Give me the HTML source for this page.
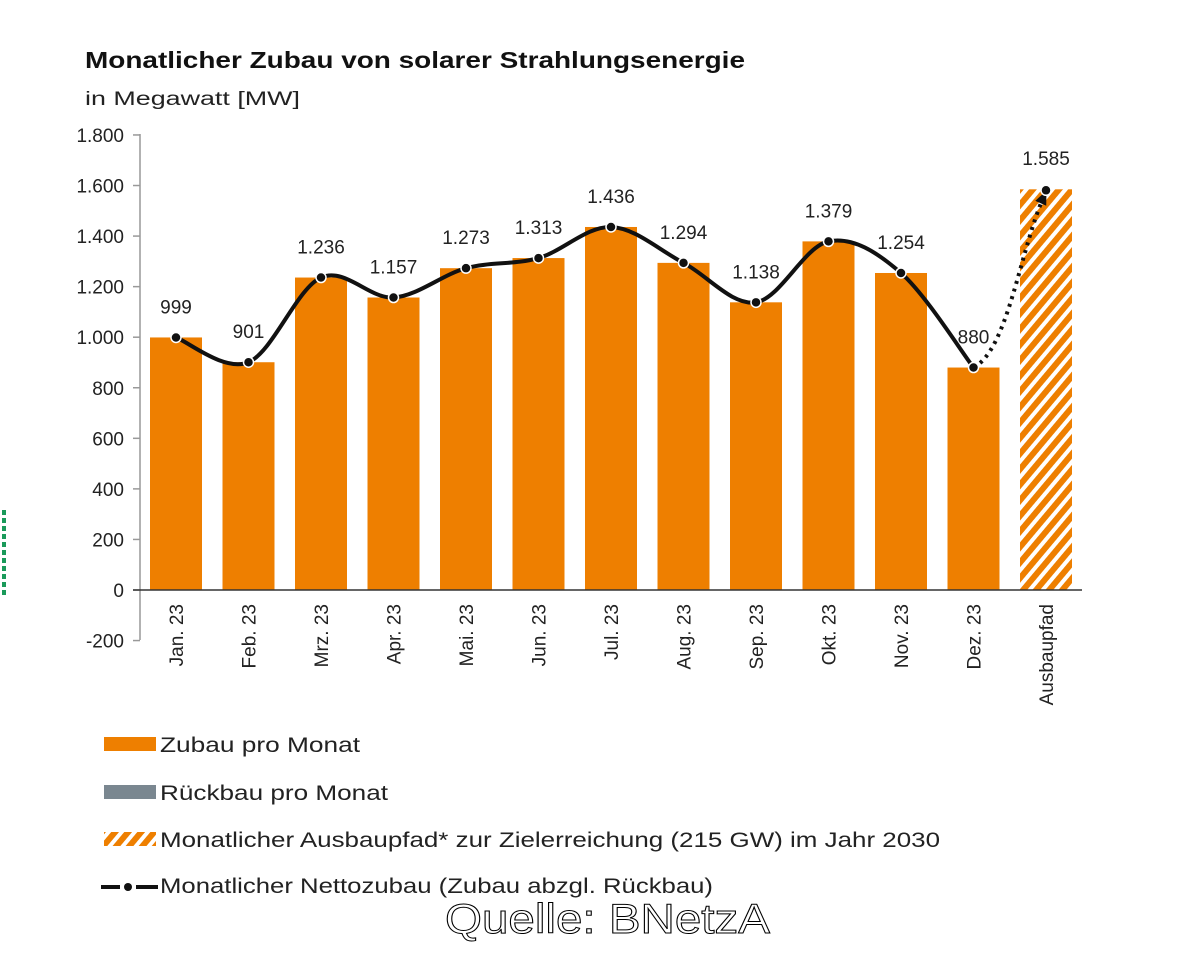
<!DOCTYPE html>
<html><head><meta charset="utf-8"><style>
body{margin:0;background:#fff;width:1200px;height:960px;overflow:hidden}
svg text{font-family:"Liberation Sans",sans-serif}
</style></head><body>
<svg id="s" width="1200" height="960" xmlns="http://www.w3.org/2000/svg">
<defs><pattern id="h" width="10" height="10" patternUnits="userSpaceOnUse" patternTransform="rotate(40)"><rect width="10" height="10" fill="#fff"/><rect width="6" height="10" fill="#ee7f00"/></pattern>
<marker id="ar" markerUnits="userSpaceOnUse" markerWidth="14" markerHeight="14" refX="8" refY="7" orient="auto"><path d="M0,1L14,7L0,13z" fill="#111"/></marker></defs>
<text x="85" y="68" font-size="23" font-weight="bold" fill="#111" textLength="660" lengthAdjust="spacingAndGlyphs">Monatlicher Zubau von solarer Strahlungsenergie</text>
<text x="85" y="105" font-size="19" fill="#222" textLength="215" lengthAdjust="spacingAndGlyphs">in Megawatt [MW]</text>
<line x1="4" y1="510" x2="4" y2="598" stroke="#1a9a5a" stroke-width="4" stroke-dasharray="5,3"/>
<g id="g"></g>
<text x="445" y="933" font-size="42" fill="#fff" stroke="#000" stroke-width="1" textLength="325" lengthAdjust="spacingAndGlyphs">Quelle: BNetzA</text>
</svg>
<script>
var g=document.getElementById('g'),h='';
function Y(v){return 590-v*0.2528}
for(var v=-200;v<=1800;v+=200){var y=Y(v);h+='<line x1="133" y1="'+y+'" x2="140" y2="'+y+'" stroke="#999" stroke-width="1.5"/>';
h+='<text x="124" y="'+(y+7)+'" font-size="19" fill="#222" text-anchor="end">'+(v>=1000?(v/1000|0)+'.'+String(v%1000).padStart(3,'0'):v)+'</text>';}
h+='<line x1="140" y1="134" x2="140" y2="640" stroke="#999" stroke-width="1.5"/>';
var d=[999,901,1236,1157,1273,1313,1436,1294,1138,1379,1254,880],L=['Jan. 23','Feb. 23','Mrz. 23','Apr. 23','Mai. 23','Jun. 23','Jul. 23','Aug. 23','Sep. 23','Okt. 23','Nov. 23','Dez. 23','Ausbaupfad'];
var P=[];
for(var i=0;i<13;i++){var c=176+72.5*i,v=i<12?d[i]:1585;
h+='<rect x="'+(c-26)+'" y="'+Y(v)+'" width="52" height="'+(590-Y(v))+'" fill="'+(i<12?'#ee7f00':'url(#h)')+'"/>';
h+='<text transform="translate('+(c+7)+',604) rotate(-90)" font-size="19" fill="#222" text-anchor="end">'+L[i]+'</text>';
P.push([c,Y(v)]);}
h+='<line x1="133" y1="590" x2="1082" y2="590" stroke="#333" stroke-width="1.5"/>';
var p='M'+P[0];for(var i=0;i<11;i++){var a=P[Math.max(i-1,0)],b=P[i],c=P[i+1],e=P[Math.min(i+2,11)];
p+=' C'+(b[0]+(c[0]-a[0])/6)+','+(b[1]+(c[1]-a[1])/6)+' '+(c[0]-(e[0]-b[0])/6)+','+(c[1]-(e[1]-b[1])/6)+' '+c;}
h+='<path d="'+p+'" fill="none" stroke="#111" stroke-width="4"/>';
h+='<path d="M'+P[11]+' C1008,350 1020,250 1044,196" fill="none" stroke="#111" stroke-width="4" stroke-dasharray="3,5" marker-end="url(#ar)"/>';
for(var i=0;i<12;i++){h+='<circle cx="'+P[i][0]+'" cy="'+P[i][1]+'" r="5" fill="#111" stroke="#fff" stroke-width="1.5"/>';
var s=d[i]>=1000?'1.'+String(d[i]%1000).padStart(3,'0'):d[i];h+='<text x="'+P[i][0]+'" y="'+(P[i][1]-24)+'" font-size="19" fill="#222" text-anchor="middle">'+s+'</text>';}
h+='<circle cx="'+P[12][0]+'" cy="'+(P[12][1]+1)+'" r="5" fill="#111" stroke="#fff" stroke-width="1.5"/>';
h+='<text x="1046" y="165" font-size="19" fill="#222" text-anchor="middle">1.585</text>';
var ly=[745,793,840,886],lw=[200,228,780,553],lt=['Zubau pro Monat','Rückbau pro Monat','Monatlicher Ausbaupfad* zur Zielerreichung (215 GW) im Jahr 2030','Monatlicher Nettozubau (Zubau abzgl. Rückbau)'];
h+='<rect x="104" y="737" width="52" height="14" fill="#ee7f00"/><rect x="104" y="785" width="52" height="14" fill="#7a8790"/><rect x="104" y="832" width="52" height="14" fill="url(#h)"/>';
h+='<line x1="101" y1="887" x2="120" y2="887" stroke="#111" stroke-width="4"/><line x1="136" y1="887" x2="158" y2="887" stroke="#111" stroke-width="4"/><circle cx="128" cy="887" r="4" fill="#111"/>';
for(var i=0;i<4;i++)h+='<text x="160" y="'+(ly[i]+7)+'" font-size="21" fill="#222" textLength="'+lw[i]+'" lengthAdjust="spacingAndGlyphs">'+lt[i]+'</text>';
g.innerHTML=h;
</script>
</body></html>
